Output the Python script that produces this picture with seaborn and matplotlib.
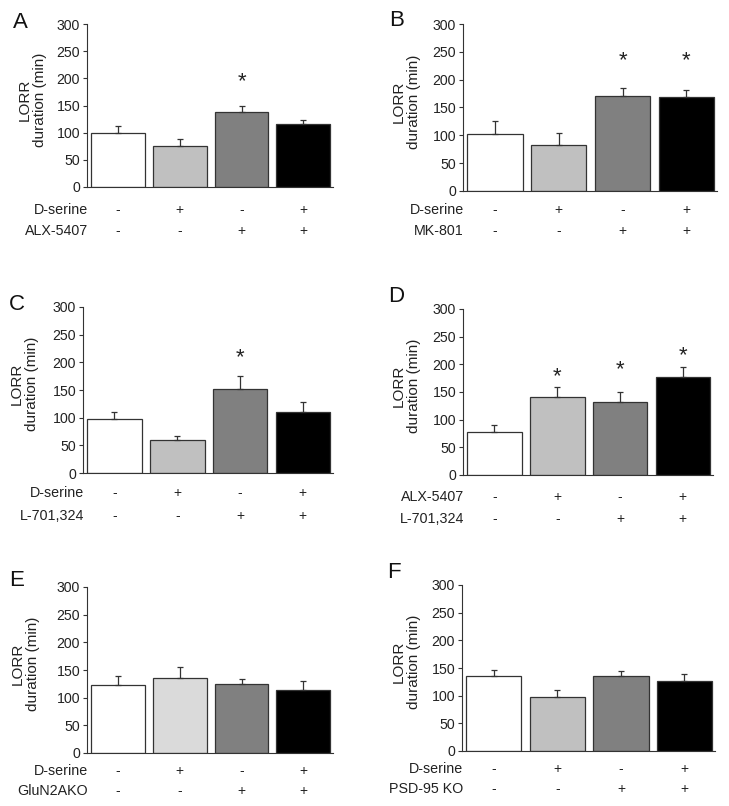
import matplotlib
matplotlib.use("Agg")
import matplotlib.pyplot as plt
import matplotlib.transforms as mtransforms
import seaborn as sns
import pandas as pd

sns.set_style("white")
plt.rcParams['font.family'] = ['Liberation Sans', 'DejaVu Sans']

# ---------------- data ----------------
groups = ["g1", "g2", "g3", "g4"]

a_means = [99, 75, 138, 116]
a_err = [14, 13, 11, 8]
a_stars = [None, None, 195, None]

b_means = [102, 82, 171, 168]
b_err = [24, 23, 14, 13]
b_stars = [None, None, 235, 235]

c_means = [97, 60, 152, 111]
c_err = [14, 7, 23, 17]
c_stars = [None, None, 210, None]

d_means = [78, 141, 132, 178]
d_err = [13, 18, 18, 18]
d_stars = [None, 178, 191, 217]

e_means = [122, 135, 124, 113]
e_err = [18, 21, 10, 17]
e_stars = [None, None, None, None]

f_means = [135, 98, 136, 126]
f_err = [11, 13, 9, 14]
f_stars = [None, None, None, None]

row1_signs = ["-", "+", "-", "+"]
row2_signs = ["-", "-", "+", "+"]

a_rows = ["D-serine", "ALX-5407"]
b_rows = ["D-serine", "MK-801"]
c_rows = ["D-serine", "L-701,324"]
d_rows = ["ALX-5407", "L-701,324"]
e_rows = ["D-serine", "GluN2AKO"]
f_rows = ["D-serine", "PSD-95 KO"]

yticks = [0, 50, 100, 150, 200, 250, 300]
ylabel = "LORR\nduration (min)"

colors_std = ["#ffffff", "#c0c0c0", "#808080", "#000000"]
colors_e = ["#ffffff", "#dadada", "#808080", "#000000"]

# ---------------- layout (pixels) ----------------
W, H = 729, 806
fig = plt.figure(figsize=(W / 100, H / 100), dpi=100)

panels = [
    ("A", a_means, a_err, a_stars, a_rows, colors_std, (87, 333, 24, 187), (20, 22), 32, (210, 231)),
    ("B", b_means, b_err, b_stars, b_rows, colors_std, (463, 717, 24, 191), (397, 20), 406, (210, 231)),
    ("C", c_means, c_err, c_stars, c_rows, colors_std, (83, 333, 307, 473), (17, 304), 24, (493, 516)),
    ("D", d_means, d_err, d_stars, d_rows, colors_std, (463, 713, 309, 475), (396, 297), 406, (497, 519)),
    ("E", e_means, e_err, e_stars, e_rows, colors_e, (87, 333, 587, 753), (17, 580), 25, (771, 791)),
    ("F", f_means, f_err, f_stars, f_rows, colors_std, (462, 715, 585, 751), (394, 572), 406, (769, 789)),
]

txt_color = "#222222"
edge = "#333333"

for letter, means, errs, stars, rows, cols, box, lpos, ylx, rowy in panels:
    l, r, t, b = box
    ax = fig.add_axes([l / W, 1 - b / H, (r - l) / W, (b - t) / H])
    df = pd.DataFrame({"group": groups, "value": means})
    sns.barplot(data=df, x="group", y="value", hue="group", palette=cols,
                width=0.87, edgecolor=edge, linewidth=0.9, legend=False, ax=ax)
    xs = list(range(len(groups)))
    ax.errorbar(xs, means, yerr=[[0] * len(errs), errs], fmt="none",
                ecolor=edge, elinewidth=0.9, capsize=2.2, capthick=0.9, zorder=1)
    for x, s in zip(xs, stars):
        if s is not None:
            ax.text(x, s - 1, "*", ha="center", va="center", fontsize=16,
                    color=txt_color)
    ax.set_xlim(-0.5, 3.48)
    ax.set_ylim(0, 300)
    ax.set_yticks(yticks)
    ax.set_yticklabels([str(v) for v in yticks], fontsize=10.2, color=txt_color)
    ax.set_xticks([])
    ax.set_xlabel("")
    ax.set_ylabel("")
    ax.tick_params(axis="y", which="both", left=True, length=3, width=0.8,
                   color=edge, pad=2)
    for sp in ["top", "right"]:
        ax.spines[sp].set_visible(False)
    for sp in ["left", "bottom"]:
        ax.spines[sp].set_color(edge)
        ax.spines[sp].set_linewidth(0.8)
    ax.set_facecolor("none")

    # y label
    fig.text(ylx / W, 1 - ((t + b) / 2 - 6) / H, ylabel, rotation=90,
             ha="center", va="center", fontsize=11, color=txt_color,
             multialignment="center", linespacing=1.1)
    # panel letter
    fig.text(lpos[0] / W, 1 - lpos[1] / H, letter, ha="center", va="center",
             fontsize=16, color="#111111")
    # condition rows
    trans = mtransforms.blended_transform_factory(ax.transData, fig.transFigure)
    for name, signs, yy in zip(rows, [row1_signs, row2_signs], rowy):
        fig.text((l + 1) / W, 1 - yy / H, name, ha="right", va="center",
                 fontsize=10.3, color=txt_color)
        for x, s in zip(xs, signs):
            ax.text(x, 1 - yy / H, s, transform=trans, ha="center",
                    va="center", fontsize=10, color=txt_color)

fig.savefig("out.png", dpi=100)
